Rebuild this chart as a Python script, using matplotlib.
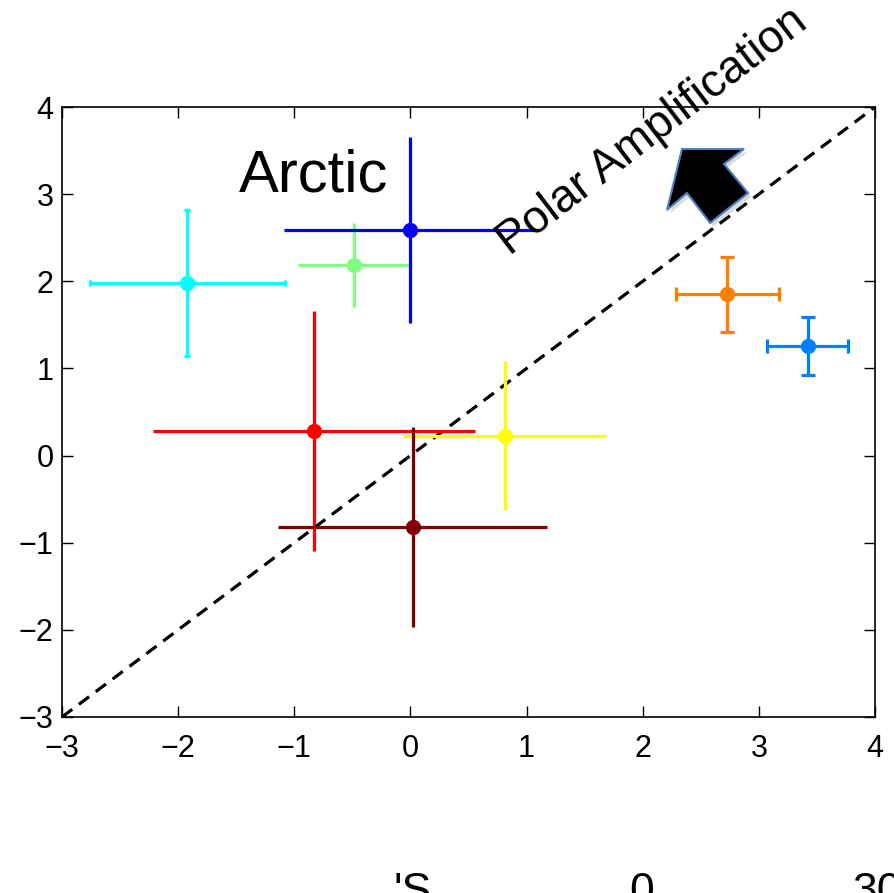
import matplotlib
matplotlib.use("Agg")
import matplotlib.pyplot as plt
from matplotlib.patches import Polygon

plt.rcParams['font.family'] = ['Liberation Sans', 'DejaVu Sans']

# points: x value, y value, symmetric errors
x_vals = [-1.92, -0.49, 0.00, -0.83, 0.81, 0.02, 2.73, 3.42]
y_vals = [1.98, 2.19, 2.59, 0.28, 0.23, -0.82, 1.85, 1.26]
x_errs = [0.84, 0.48, 1.09, 1.39, 0.87, 1.16, 0.44, 0.35]
y_errs = [0.84, 0.48, 1.07, 1.38, 0.86, 1.15, 0.43, 0.33]
colors = ['#00ffff', '#80ff80', '#0000ff', '#ff0000', '#ffff00', '#800000',
          '#ff8000', '#0080ff']
caps = [2, 0, 0, 0, 0, 0, 5, 5]

ticks = [-3, -2, -1, 0, 1, 2, 3, 4]

# block arrow outline (data coords)
arrow_x = [2.338, 2.872, 2.700, 2.907, 2.580, 2.381, 2.209]
arrow_y = [3.518, 3.518, 3.346, 3.013, 2.669, 3.013, 2.818]

# cut-off labels of a lower panel
bottom_labels = ["'S", "0", "30"]
bottom_xpix = [394, 629, 852]

fig = plt.figure(figsize=(8.94, 8.93), dpi=100)
ax = fig.add_axes([62 / 894, 176 / 893, 813 / 894, 610 / 893])

ax.plot(ticks, ticks, color='black', ls=(0, (4, 2.6)), lw=2.3, zorder=1)

for xv, yv, xe, ye, c, cs in zip(x_vals, y_vals, x_errs, y_errs, colors, caps):
    ax.errorbar(xv, yv, xerr=xe, yerr=ye, fmt='o', color=c, ms=10,
                elinewidth=2.3, capsize=cs, capthick=2.3, zorder=3)

shadow = Polygon([(a + 0.03, b - 0.04) for a, b in zip(arrow_x, arrow_y)],
                 closed=True, fc='#bbbbbb', ec='none', alpha=0.5, zorder=4)
ax.add_patch(shadow)
ax.add_patch(Polygon(list(zip(arrow_x, arrow_y)), closed=True, fc='black',
                     ec='#4f81bd', lw=1.5, zorder=5))

ax.text(-1.48, 3.03, 'Arctic', fontsize=43, ha='left', va='baseline')
ax.text(0.86, 2.29, 'Polar Amplification', fontsize=33, rotation=37.5,
        rotation_mode='anchor', ha='left', va='baseline')

ax.set_xlim(-3, 4)
ax.set_ylim(-3, 4)
ax.set_xticks(ticks)
ax.set_yticks(ticks)
ax.set_xticklabels(['\u2212%d' % -t if t < 0 else str(t) for t in ticks])
ax.set_yticklabels(['\u2212%d' % -t if t < 0 else str(t) for t in ticks])
ax.tick_params(direction='in', length=8, width=1, labelsize=22,
               top=True, right=True)
ax.tick_params(axis='x', pad=12)
ax.tick_params(axis='y', pad=6)
for s in ax.spines.values():
    s.set_linewidth(1.2)

for lab, xp in zip(bottom_labels, bottom_xpix):
    fig.text(xp / 894, -0.012, lab, fontsize=32, ha='left', va='baseline')

fig.savefig('out.png', dpi=100)
